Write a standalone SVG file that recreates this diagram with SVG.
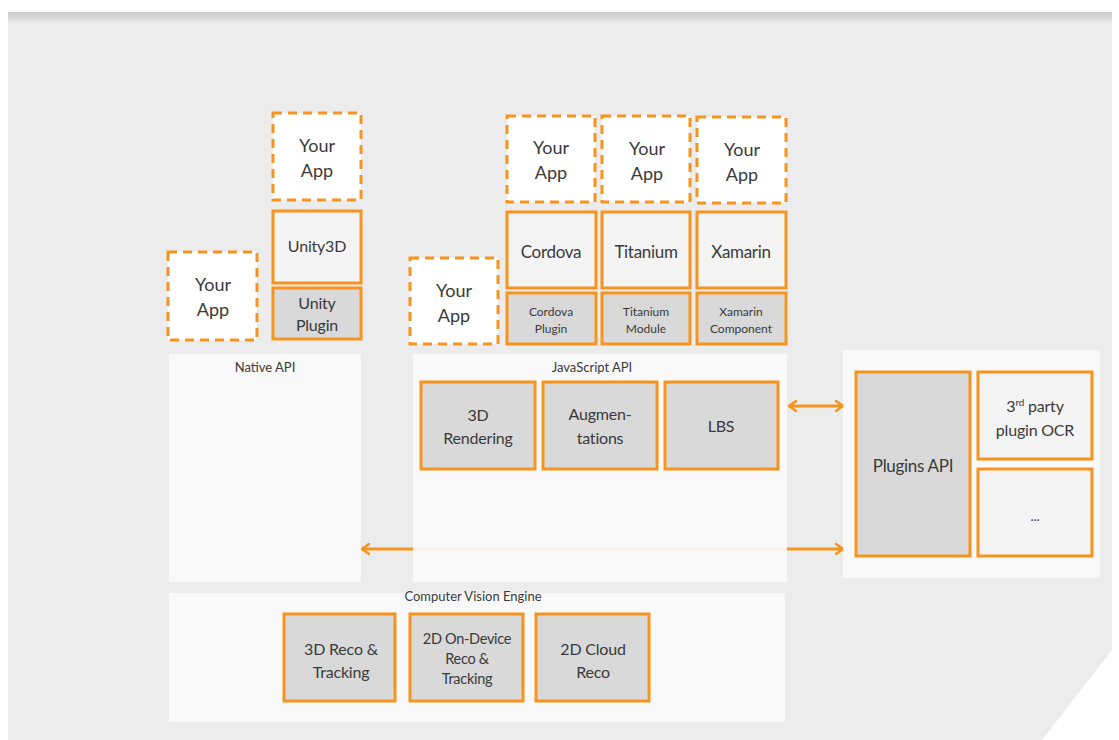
<svg xmlns="http://www.w3.org/2000/svg" width="1119" height="740" viewBox="0 0 1119 740">
<defs>
<linearGradient id="shadow" x1="0" y1="0" x2="0" y2="1">
<stop offset="0" stop-color="#c8c8c8"/>
<stop offset="1" stop-color="#ececec"/>
</linearGradient>
<marker id="ah" markerWidth="10" markerHeight="12" refX="8" refY="6" orient="auto-start-reverse" markerUnits="userSpaceOnUse">
<path d="M1,1 L8,6 L1,11" fill="none" stroke="#f7941d" stroke-width="2.6" stroke-linecap="round" stroke-linejoin="round"/>
</marker>
<style>
text{font-family:Lato,"Open Sans","Liberation Sans",sans-serif;fill:#3a3a3a;text-anchor:middle}
.app{fill:#ffffff;stroke:#f7941d;stroke-width:3;stroke-dasharray:9 6}
.fw{fill:#f4f4f4;stroke:#f7941d;stroke-width:3}
.pl{fill:#d9d9d9;stroke:#f7941d;stroke-width:3}
.panel{fill:#fafafa;fill-opacity:0.93}
.t18{font-size:18px}
.t17{font-size:17px;letter-spacing:-0.3px}
.t16{font-size:16px;letter-spacing:-0.2px}
.t14{font-size:14.5px;letter-spacing:-0.3px}
.t13{font-size:13px}
.t12{font-size:12px}
.conn{stroke:#f7941d;stroke-width:3;fill:none}
</style>
</defs>
<rect x="0" y="0" width="1119" height="740" fill="#ffffff"/>
<path d="M8,12 H1112 V650 L1042,740 H8 Z" fill="#ececec"/>
<rect x="8" y="12" width="1104" height="12" fill="url(#shadow)"/>

<g id="connectors">
<line class="conn" x1="362" y1="549" x2="843" y2="549" marker-start="url(#ah)" marker-end="url(#ah)"/>
<line class="conn" x1="789" y1="406" x2="843" y2="406" marker-start="url(#ah)" marker-end="url(#ah)"/>
</g>

<g id="native-api">
<rect class="panel" x="169" y="354" width="192" height="228"/>
<text class="t13" x="265" y="372">Native API</text>
</g>
<g id="javascript-api">
<rect class="panel" x="413" y="354" width="374" height="228"/>
<text class="t13" x="592" y="372">JavaScript API</text>
</g>
<g id="plugins-panel">
<rect class="panel" x="843" y="350" width="257" height="228"/>
</g>
<g id="cv-engine">
<rect class="panel" x="169" y="593" width="616" height="129"/>
<text class="t13" x="473" y="601">Computer Vision Engine</text>
</g>

<g id="yourapp-native">
<rect class="app" x="168" y="252" width="89" height="88"/>
<text class="t18" x="213" y="291">Your</text>
<text class="t18" x="213" y="316">App</text>
</g>
<g id="yourapp-unity">
<rect class="app" x="273" y="113" width="88" height="87"/>
<text class="t18" x="317" y="152">Your</text>
<text class="t18" x="317" y="177">App</text>
</g>
<g id="unity3d">
<rect class="fw" x="273" y="211" width="88" height="72"/>
<text class="t16" x="317" y="252">Unity3D</text>
</g>
<g id="unity-plugin">
<rect class="pl" x="273" y="288" width="88" height="51"/>
<text class="t16" x="317" y="309">Unity</text>
<text class="t16" x="317" y="331">Plugin</text>
</g>

<g id="yourapp-js">
<rect class="app" x="410" y="258" width="88" height="86"/>
<text class="t18" x="454" y="297">Your</text>
<text class="t18" x="454" y="322">App</text>
</g>
<g id="yourapp-cordova">
<rect class="app" x="507" y="116" width="88" height="86"/>
<text class="t18" x="551" y="154">Your</text>
<text class="t18" x="551" y="179">App</text>
</g>
<g id="yourapp-titanium">
<rect class="app" x="602" y="116" width="88" height="86"/>
<text class="t18" x="647" y="155">Your</text>
<text class="t18" x="647" y="180">App</text>
</g>
<g id="yourapp-xamarin">
<rect class="app" x="697" y="117" width="89" height="86"/>
<text class="t18" x="742" y="156">Your</text>
<text class="t18" x="742" y="181">App</text>
</g>
<g id="cordova">
<rect class="fw" x="507" y="212" width="89" height="76"/>
<text class="t17" x="551" y="258">Cordova</text>
</g>
<g id="titanium">
<rect class="fw" x="602" y="212" width="88" height="76"/>
<text class="t17" x="646" y="258">Titanium</text>
</g>
<g id="xamarin">
<rect class="fw" x="697" y="212" width="89" height="76"/>
<text class="t17" x="741" y="258">Xamarin</text>
</g>
<g id="cordova-plugin">
<rect class="pl" x="507" y="293" width="89" height="51"/>
<text class="t12" x="551" y="316">Cordova</text>
<text class="t12" x="551" y="333">Plugin</text>
</g>
<g id="titanium-module">
<rect class="pl" x="602" y="293" width="88" height="51"/>
<text class="t12" x="646" y="316">Titanium</text>
<text class="t12" x="646" y="333">Module</text>
</g>
<g id="xamarin-component">
<rect class="pl" x="697" y="293" width="89" height="51"/>
<text class="t12" x="741" y="316">Xamarin</text>
<text class="t12" x="741" y="333">Component</text>
</g>

<g id="rendering">
<rect class="pl" x="421" y="382" width="114" height="87"/>
<text class="t16" x="478" y="421">3D</text>
<text class="t16" x="478" y="444">Rendering</text>
</g>
<g id="augmentations">
<rect class="pl" x="543" y="382" width="114" height="87"/>
<text class="t16" x="600" y="420">Augmen-</text>
<text class="t16" x="600" y="444">tations</text>
</g>
<g id="lbs">
<rect class="pl" x="665" y="382" width="113" height="87"/>
<text class="t16" x="721" y="432">LBS</text>
</g>

<g id="plugins-api">
<rect class="pl" x="856" y="372" width="114" height="184"/>
<text class="t17" x="913" y="472">Plugins API</text>
</g>
<g id="ocr-plugin">
<rect class="fw" x="978" y="372" width="114" height="87"/>
<text class="t16" x="1035" y="412">3<tspan font-size="10" dy="-6">rd</tspan><tspan dy="6"> party</tspan></text>
<text class="t16" x="1035" y="436">plugin OCR</text>
</g>
<g id="more-plugins">
<rect class="fw" x="978" y="469" width="114" height="87"/>
<text class="t13" x="1035" y="521">...</text>
</g>

<g id="reco-3d">
<rect class="pl" x="284" y="614" width="111" height="87"/>
<text class="t16" x="341" y="655">3D Reco &amp;</text>
<text class="t16" x="341" y="678">Tracking</text>
</g>
<g id="reco-2d-device">
<rect class="pl" x="410" y="614" width="113" height="87"/>
<text class="t14" x="467" y="644">2D On-Device</text>
<text class="t14" x="467" y="664">Reco &amp;</text>
<text class="t14" x="467" y="684">Tracking</text>
</g>
<g id="reco-2d-cloud">
<rect class="pl" x="536" y="614" width="113" height="87"/>
<text class="t16" x="593" y="655">2D Cloud</text>
<text class="t16" x="593" y="678">Reco</text>
</g>
</svg>
